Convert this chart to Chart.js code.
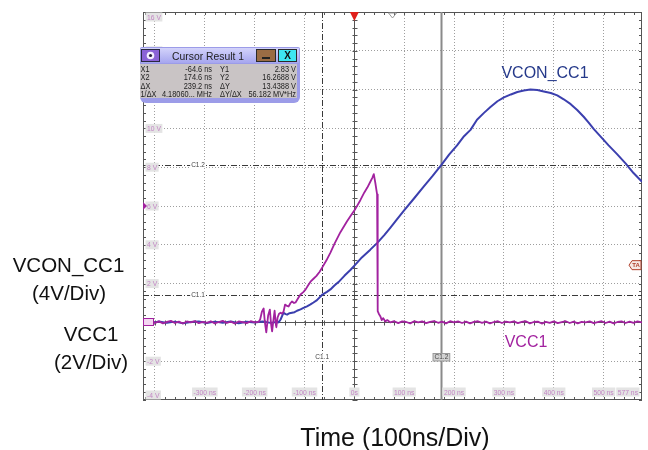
<!DOCTYPE html>
<html>
<head>
<meta charset="utf-8">
<script src="https://cdn.jsdelivr.net/npm/chart.js@4.4.1/dist/chart.umd.min.js"></script>
<style>
  html, body { margin: 0; padding: 0; background: #fff; }
  canvas { display: block; }
</style>
</head>
<body>
<canvas id="scope" width="648" height="450"></canvas>
<script>
// VCC1 capture: time in ns, level in V (2 V/div)
const vccTime = [-424,-416,-408,-400,-392,-384,-376,-368,-360,-352,-344,-336,-328,-320,-312,-304,-296,-288,-280,-272,-264,-256,-248,-240,-232,-224,-216,-208,-200,-192,
  -189,-185.5,-182,-179.5,-176.7,-173,-169.5,-167,-165,-162,-160,-158,-156.5,-154,-151,-148,-145,-142,-139,-135,-132,-128,-125,-121,-118,-112,-108,-103,-98,-93,-88,-82,-76,-70,-64,-56,-48,-40,-28,-15,-6,2,12,20,26,32,36,39,42,45.6,46.8,49,52,55,58,62,66,72,
  80,88,96,104,112,120,128,136,144,152,160,168,176,184,192,200,208,216,224,232,240,248,256,264,272,280,288,296,304,312,320,328,336,344,352,360,368,376,384,392,400,408,416,424,432,440,448,456,464,472,480,488,496,504,512,520,528,536,544,552,560,568,577];
const vccVolt = [0.02,-0.04,0.06,-0.02,0.05,-0.05,0.03,0.08,-0.03,0.04,-0.06,0.05,0.0,0.07,-0.04,0.03,-0.02,0.06,-0.05,0.02,0.08,-0.03,0.04,-0.06,0.05,0.01,-0.04,0.06,0.0,0.03,
  0.15,0.55,0.72,0.0,-0.51,0.35,0.66,-0.1,-0.46,0.2,0.6,0.05,-0.25,0.25,0.45,0.5,0.45,0.56,0.92,0.85,0.82,1.0,1.08,1.0,1.03,1.28,1.44,1.55,1.69,1.9,2.1,2.25,2.4,2.6,2.85,3.2,3.6,4.05,4.65,5.2,5.55,5.85,6.3,6.7,6.95,7.25,7.45,7.64,7.2,6.6,0.58,0.45,0.32,0.12,0.22,0.05,0.12,0.0,
  0.06,-0.04,0.05,0.02,-0.05,0.06,0.0,0.05,-0.04,0.03,0.07,-0.02,0.04,-0.05,0.06,0.0,0.05,-0.03,0.04,-0.05,0.03,0.06,-0.02,0.04,-0.05,0.02,0.06,-0.03,0.04,0.0,0.05,-0.04,0.03,0.06,-0.05,0.02,0.04,-0.06,0.03,-0.02,0.05,-0.04,0.02,0.06,-0.03,0.04,-0.05,0.03,0.0,0.05,-0.04,0.02,0.06,-0.03,0.04,-0.05,0.02,0.05,-0.03,0.04,-0.02,0.05,0.0];

// VCON_CC1 capture: time in ns, level in V (4 V/div)
const vconTime = [-424,-408,-392,-376,-360,-344,-328,-312,-296,-280,-264,-248,-232,-216,-200,-184,-168,-156,-152,-148,-142,-138,-135,-130,-125,-120,-115,-108,-102,-95,-88,-82,-75,-65,-55,-48,-40,-30,-20,-8,2,15,32,46,60,72,85,99,120,139,157,175,190,206,220,233,246,260,273,287,300,314,327,340,353,367,380,394,407,420,434,447,460,470,480,495,510,527,544,560,577];
const vconVolt = [0.05,-0.08,0.1,-0.05,0.08,-0.1,0.04,0.1,-0.06,0.08,-0.04,0.1,-0.08,0.06,0.0,0.1,-0.05,0.05,0.0,0.3,1.0,0.85,0.8,0.95,1.0,1.05,1.2,1.35,1.5,1.65,1.85,2.05,2.3,2.83,3.15,3.4,3.8,4.25,4.8,5.4,5.95,6.7,7.5,8.2,9.0,9.75,10.6,11.5,12.8,14.0,15.1,16.27,17.3,18.26,19.2,19.85,20.9,21.6,22.2,22.8,23.2,23.5,23.75,23.9,24.0,23.95,23.8,23.65,23.4,23.0,22.5,21.9,21.2,20.6,19.95,19.1,18.25,17.35,16.4,15.4,14.5];

// graticule and its labels
const timeGrid = [-400,-300,-200,-100,0,100,200,300,400,500];
const timeLabelAt = [-300,-200,-100,0,100,200,300,400,500,577];
const timeLabels = ['-300 ns','-200 ns','-100 ns','0s','100 ns','200 ns','300 ns','400 ns','500 ns','577 ns'];
const voltGrid = [-2,0,2,4,6,8,10,12,14];
const voltLabelAt = [16,14,12,10,8,6,4,2,-2,-4];
const voltLabels = ['16 V','14 V','12 V','10 V','8 V','6 V','4 V','2 V','-2 V','-4 V'];

// cursor pair 1 (time in ns, level on the VCON_CC1 scale)
const cursorTime = [-64.6, 174.6];
const cursorLevel = [2.83, 16.2688];
const readoutRows = [
  ['X1', '-64.6 ns', 'Y1', '2.83 V'],
  ['X2', '174.6 ns', 'Y2', '16.2688 V'],
  ['\u0394X', '239.2 ns', '\u0394Y', '13.4388 V'],
  ['1/\u0394X', '4.18060... MHz', '\u0394Y/\u0394X', '56.182 MV*Hz']
];

const VCC_COLOR = '#a2229f';
const VCON_COLOR = '#3b3fae';
const SANS = '"Liberation Sans", Arial, sans-serif';

function pts(ts, vs) { return ts.map((t, i) => ({ x: t, y: vs[i] })); }

// text squeezed horizontally, like the instrument's narrow UI font
function narrowText(ctx, text, px, py, align, sx) {
  const w = ctx.measureText(text).width * sx;
  let left = px;
  if (align === 'right') left = px - w;
  if (align === 'center') left = px - w / 2;
  ctx.save();
  ctx.translate(left, py);
  ctx.scale(sx, 1);
  ctx.textAlign = 'left';
  ctx.fillText(text, 0, 0);
  ctx.restore();
}

function tag(ctx, text, cx, cy, align) {
  ctx.font = '7.5px ' + SANS;
  const sx = 0.9;
  const w = ctx.measureText(text).width * sx;
  let left = cx - w / 2;
  if (align === 'left') left = cx;
  if (align === 'right') left = cx - w;
  ctx.fillStyle = '#e4e4e4';
  ctx.fillRect(left - 1.5, cy - 4.5, w + 3, 9);
  ctx.fillStyle = '#c286c4';
  ctx.textBaseline = 'middle';
  narrowText(ctx, text, left, cy + 0.5, 'left', sx);
}

const scopeDecor = {
  id: 'scopeDecor',
  beforeDatasetsDraw(chart) {
    const { ctx, chartArea: a, scales: { x, y, y2 } } = chart;
    ctx.save();
    const x0 = Math.round(x.getPixelForValue(0)) + 0.5;
    const y0 = Math.round(y.getPixelForValue(0)) + 0.5;
    ctx.strokeStyle = '#555';
    ctx.lineWidth = 1;
    ctx.setLineDash([]);
    ctx.beginPath();
    ctx.moveTo(x0, a.top); ctx.lineTo(x0, a.bottom);
    ctx.moveTo(a.left, y0); ctx.lineTo(a.right, y0);
    // minor divisions along frame and centre lines
    for (let k = 0; k <= 50; k++) {
      const t = -420 + k * 20;
      if (t > 577) break;
      const px = Math.round(x.getPixelForValue(t)) + 0.5;
      ctx.moveTo(px, a.top); ctx.lineTo(px, a.top + 3);
      ctx.moveTo(px, a.bottom); ctx.lineTo(px, a.bottom - 3);
      ctx.moveTo(px, y0 - 2); ctx.lineTo(px, y0 + 3);
    }
    for (let k = 0; k <= 50; k++) {
      const v = -4 + k * 0.4;
      const py = Math.round(y.getPixelForValue(v)) + 0.5;
      ctx.moveTo(a.left, py); ctx.lineTo(a.left + 3, py);
      ctx.moveTo(a.right, py); ctx.lineTo(a.right - 3, py);
      ctx.moveTo(x0 - 2, py); ctx.lineTo(x0 + 3, py);
    }
    ctx.stroke();
    ctx.strokeRect(a.left + 0.5, a.top + 0.5, a.right - a.left - 1, a.bottom - a.top - 1);

    // cursors
    const cx1 = Math.round(x.getPixelForValue(cursorTime[0])) + 0.5;
    const cx2 = Math.round(x.getPixelForValue(cursorTime[1])) + 0.5;
    const cy1 = Math.round(y2.getPixelForValue(cursorLevel[0])) + 0.5;
    const cy2 = Math.round(y2.getPixelForValue(cursorLevel[1])) + 0.5;
    ctx.strokeStyle = '#3a3a3a';
    ctx.setLineDash([6, 2, 1, 2]);
    ctx.beginPath();
    ctx.moveTo(cx1, a.top); ctx.lineTo(cx1, a.bottom);
    ctx.moveTo(a.left, cy1); ctx.lineTo(a.right, cy1);
    ctx.moveTo(a.left, cy2); ctx.lineTo(a.right, cy2);
    ctx.stroke();
    ctx.setLineDash([]);
    ctx.strokeStyle = '#8a8a8a';
    ctx.lineWidth = 2;
    ctx.beginPath();
    ctx.moveTo(cx2, a.top); ctx.lineTo(cx2, a.bottom);
    ctx.stroke();
    ctx.restore();
  },
  afterDatasetsDraw(chart) {
    const { ctx, chartArea: a, scales: { x, y, y2 } } = chart;
    ctx.save();
    // scale readouts inside the graticule
    voltLabelAt.forEach((v, i) => {
      let py = y.getPixelForValue(v);
      py = Math.min(Math.max(py, a.top + 5), a.bottom - 5);
      tag(ctx, voltLabels[i], a.left + 4, py, 'left');
    });
    timeLabelAt.forEach((t, i) => {
      const px = x.getPixelForValue(t);
      const align = px > a.right - 15 ? 'right' : 'center';
      tag(ctx, timeLabels[i], align === 'right' ? a.right - 4 : px, a.bottom - 8, align);
    });

    // cursor names
    const cx1 = x.getPixelForValue(cursorTime[0]);
    const cx2 = x.getPixelForValue(cursorTime[1]);
    const cy1 = y2.getPixelForValue(cursorLevel[0]);
    const cy2 = y2.getPixelForValue(cursorLevel[1]);
    ctx.font = '6.5px ' + SANS;
    ctx.textAlign = 'center';
    ctx.textBaseline = 'middle';
    [['C1.1', 198, cy1], ['C1.2', 198, cy2], ['C1.1', cx1, 357]].forEach(([s, px, py]) => {
      const w = ctx.measureText(s).width;
      ctx.fillStyle = '#fff';
      ctx.fillRect(px - w / 2 - 1, py - 3.5, w + 2, 7);
      ctx.fillStyle = '#444';
      ctx.fillText(s, px, py + 0.5);
    });
    {
      const w = ctx.measureText('C1.2').width;
      ctx.fillStyle = '#d2d2d2';
      ctx.fillRect(cx2 - w / 2 - 1.5, 353, w + 3, 8);
      ctx.strokeStyle = '#999';
      ctx.lineWidth = 1;
      ctx.strokeRect(cx2 - w / 2 - 1.5, 353.5, w + 3, 7.5);
      ctx.fillStyle = '#444';
      ctx.fillText('C1.2', cx2, 357.5);
    }

    // trigger position and screen centre markers
    const tx = x.getPixelForValue(0);
    ctx.fillStyle = '#e0201c';
    ctx.beginPath();
    ctx.moveTo(tx - 4.5, a.top); ctx.lineTo(tx + 4.5, a.top); ctx.lineTo(tx, a.top + 9);
    ctx.closePath(); ctx.fill();
    const mx = (a.left + a.right) / 2;
    ctx.strokeStyle = '#999';
    ctx.lineWidth = 1;
    ctx.beginPath();
    ctx.moveTo(mx - 4, a.top + 1); ctx.lineTo(mx + 4, a.top + 1); ctx.lineTo(mx, a.top + 6);
    ctx.closePath(); ctx.stroke();

    // channel ground and level markers on the left edge
    const g = Math.round(y.getPixelForValue(0));
    ctx.fillStyle = '#f3d6f1';
    ctx.fillRect(a.left, g - 4, 10, 8);
    ctx.strokeStyle = VCC_COLOR;
    ctx.strokeRect(a.left + 0.5, g - 3.5, 10, 7);
    const lv = y.getPixelForValue(6);
    ctx.fillStyle = VCC_COLOR;
    ctx.beginPath();
    ctx.moveTo(a.left, lv - 4); ctx.lineTo(a.left + 4, lv); ctx.lineTo(a.left, lv + 4);
    ctx.closePath(); ctx.fill();

    // trigger level tag on the right edge
    const ty = y.getPixelForValue(2.95);
    ctx.fillStyle = '#f6e8e4';
    ctx.strokeStyle = '#b0402c';
    ctx.beginPath();
    ctx.moveTo(a.right - 1, ty - 4.5); ctx.lineTo(a.right - 10, ty - 4.5);
    ctx.lineTo(a.right - 13, ty); ctx.lineTo(a.right - 10, ty + 4.5); ctx.lineTo(a.right - 1, ty + 4.5);
    ctx.closePath(); ctx.fill(); ctx.stroke();
    ctx.fillStyle = '#b0402c';
    ctx.font = 'bold 6px ' + SANS;
    ctx.textAlign = 'center';
    ctx.fillText('TA', a.right - 6, ty + 0.5);

    // trace names
    ctx.textAlign = 'center';
    ctx.textBaseline = 'alphabetic';
    ctx.font = '16px ' + SANS;
    ctx.fillStyle = '#25398a';
    ctx.fillText('VCON_CC1', 545, 78);
    ctx.fillStyle = VCC_COLOR;
    ctx.fillText('VCC1', 526, 347);
    ctx.restore();
  },
  afterDraw(chart) {
    const { ctx } = chart;
    ctx.save();
    // cursor readout window
    const bx = 140, by = 47, bw = 160, bh = 56;
    ctx.fillStyle = '#9c9ce8';
    ctx.beginPath();
    ctx.roundRect(bx, by, bw, bh, [2, 2, 6, 6]);
    ctx.fill();
    const grad = ctx.createLinearGradient(0, by, 0, by + 16);
    grad.addColorStop(0, '#d6d6fb');
    grad.addColorStop(1, '#a6a6ef');
    ctx.fillStyle = grad;
    ctx.fillRect(bx + 1, by + 1, bw - 2, 15);
    ctx.fillStyle = 'rgba(204,199,194,0.93)';
    ctx.fillRect(bx, by + 17, bw - 3, bh - 22);

    // window buttons
    ctx.lineWidth = 1;
    ctx.fillStyle = '#8a62d6';
    ctx.fillRect(bx + 1, by + 2, 19, 13);
    ctx.strokeStyle = '#2a2a40';
    ctx.strokeRect(bx + 1.5, by + 2.5, 18, 12);
    ctx.fillStyle = '#f4f0ff';
    ctx.beginPath(); ctx.arc(bx + 10.5, by + 8.5, 3.8, 0, Math.PI * 2); ctx.fill();
    ctx.fillStyle = '#2a2040';
    ctx.beginPath(); ctx.arc(bx + 10.5, by + 8.5, 1.6, 0, Math.PI * 2); ctx.fill();

    ctx.fillStyle = '#9a6c44';
    ctx.fillRect(bx + 116, by + 2, 20, 13);
    ctx.strokeStyle = '#2a2a2a';
    ctx.strokeRect(bx + 116.5, by + 2.5, 19, 12);
    ctx.fillStyle = '#222';
    ctx.fillRect(bx + 122, by + 10, 8, 2);

    ctx.fillStyle = '#3ee6f2';
    ctx.fillRect(bx + 138, by + 2, 19, 13);
    ctx.strokeStyle = '#2a2a2a';
    ctx.strokeRect(bx + 138.5, by + 2.5, 18, 12);
    ctx.fillStyle = '#111';
    ctx.font = 'bold 10px ' + SANS;
    ctx.textAlign = 'center';
    ctx.textBaseline = 'middle';
    ctx.fillText('X', bx + 147.5, by + 9);

    ctx.font = '11.5px ' + SANS;
    ctx.fillStyle = '#222';
    ctx.textBaseline = 'alphabetic';
    narrowText(ctx, 'Cursor Result 1', 208, by + 13, 'center', 0.9);

    ctx.font = '9px ' + SANS;
    readoutRows.forEach((r, i) => {
      const base = by + 24.5 + i * 8.6;
      narrowText(ctx, r[0], bx + 0.5, base, 'left', 0.82);
      narrowText(ctx, r[2], 220, base, 'left', 0.82);
      narrowText(ctx, r[1], 212, base, 'right', 0.82);
      narrowText(ctx, r[3], 296, base, 'right', 0.82);
    });

    // axis captions
    ctx.fillStyle = '#111';
    ctx.textAlign = 'center';
    ctx.font = '20.5px ' + SANS;
    ctx.fillText('VCON_CC1', 68.5, 272);
    ctx.fillText('(4V/Div)', 69, 300);
    ctx.fillText('VCC1', 91, 341);
    ctx.fillText('(2V/Div)', 91, 369);
    ctx.font = '25px ' + SANS;
    ctx.fillText('Time (100ns/Div)', 395, 446);
    ctx.restore();
  }
};

new Chart(document.getElementById('scope'), {
  type: 'line',
  data: {
    datasets: [
      {
        label: 'VCC1',
        data: pts(vccTime, vccVolt),
        yAxisID: 'y',
        borderColor: VCC_COLOR,
        borderWidth: 1.8,
        pointRadius: 0,
        tension: 0,
        borderJoinStyle: 'round',
        order: 0
      },
      {
        label: 'VCON_CC1',
        data: pts(vconTime, vconVolt),
        yAxisID: 'y2',
        borderColor: VCON_COLOR,
        borderWidth: 2,
        pointRadius: 0,
        tension: 0,
        borderJoinStyle: 'round',
        order: 1
      }
    ]
  },
  options: {
    responsive: false,
    animation: false,
    events: [],
    layout: { autoPadding: false, padding: { left: 143, right: 6, top: 12, bottom: 50 } },
    plugins: { legend: { display: false }, tooltip: { enabled: false } },
    scales: {
      x: {
        type: 'linear',
        min: -424,
        max: 577,
        afterBuildTicks: (s) => { s.ticks = timeGrid.map(v => ({ value: v })); },
        ticks: { display: false },
        grid: { color: '#9e9e9e', lineWidth: 1, drawTicks: false },
        border: { display: false, dash: [1, 2] }
      },
      y: {
        type: 'linear',
        min: -4,
        max: 16,
        afterBuildTicks: (s) => { s.ticks = voltGrid.map(v => ({ value: v })); },
        ticks: { display: false },
        grid: { color: '#9e9e9e', lineWidth: 1, drawTicks: false },
        border: { display: false, dash: [1, 2] }
      },
      y2: {
        type: 'linear',
        display: false,
        min: -8,
        max: 32
      }
    }
  },
  plugins: [scopeDecor]
});
</script>
</body>
</html>
